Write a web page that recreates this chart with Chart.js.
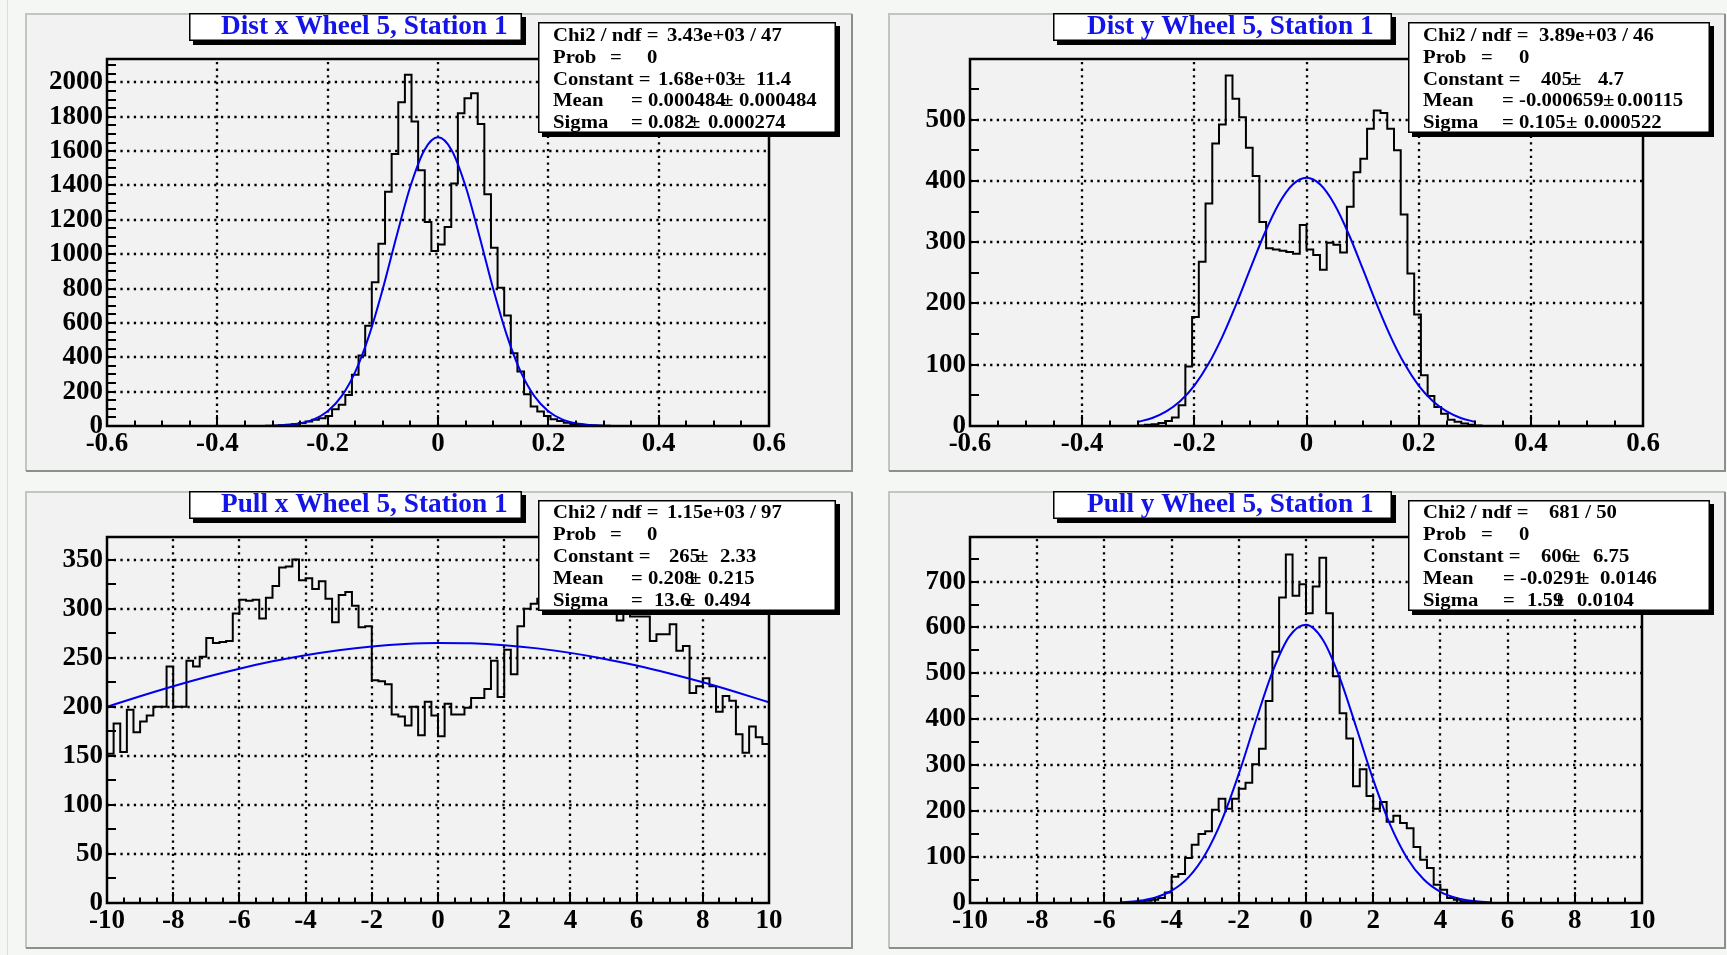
<!DOCTYPE html>
<html><head><meta charset="utf-8">
<script src="https://cdn.jsdelivr.net/npm/chart.js@4.4.1/dist/chart.umd.min.js"></script>
<style>
html,body{margin:0;padding:0;background:#f4f7f4;}
body{width:1727px;height:955px;position:relative;overflow:hidden;}
canvas{position:absolute;}
#edge{position:absolute;left:7px;top:0;width:1px;height:955px;background:#d3e2d3;}
</style></head><body>
<div id="edge"></div>
<canvas id="c1"></canvas><canvas id="c2"></canvas><canvas id="c3"></canvas><canvas id="c4"></canvas>
<script>
// ---------------- DATA ----------------
const titles = ["Dist x Wheel 5, Station 1","Dist y Wheel 5, Station 1","Pull x Wheel 5, Station 1","Pull y Wheel 5, Station 1"];

// histogram bin contents (100 bins each)
const distXValues = [0,0,0,0,0,0,0,0,0,0,0,0,0,0,0,0,0,0,0,0,0,0,0,0,
 1,2,4,7,12,18,26,36,45,58,97,123,181,298,411,584,837,1061,1363,1583,1885,2044,1772,1489,1188,1018,
 1057,1158,1412,1820,1908,1937,1758,1349,1038,804,643,424,317,185,113,84,58,39,29,19,12,8,5,3,2,1,
 0,0,0,0,0,0,0,0,0,0,0,0,0,0,0,0,0,0,0,0,0,0,0,0];
const distYValues = [0,0,0,0,0,0,0,0,0,0,0,0,0,0,0,0,0,0,0,0,0,0,0,0,0,
 1,2,3,5,8,14,34,97,178,268,363,461,492,572,534,504,454,408,333,290,288,286,284,281,328,
 288,279,255,299,296,283,358,414,436,485,515,511,485,450,345,249,182,83,49,31,20,10,7,4,2,1,
 0,0,0,0,0,0,0,0,0,0,0,0,0,0,0,0,0,0,0,0,0,0,0,0];
const pullXValues = [152,183,154,197,174,185,191,200,200,241,
 200,200,247,241,251,270,265,266,267,295,
 309,308,309,290,311,323,342,343,350,329,
 331,320,328,310,286,314,317,303,281,282,
 227,226,223,192,190,181,200,171,205,191,
 170,203,192,192,199,209,209,218,247,210,
 258,233,282,300,305,310,318,325,315,322,
 330,320,315,318,305,300,297,288,297,292,
 292,292,267,274,274,284,257,262,214,221,
 229,221,195,211,206,172,153,180,169,162];
const pullYValues = [0,0,0,0,0,0,0,0,0,0,0,0,0,0,0,0,0,0,0,0,0,0,0,0,
 1,2,5,7,11,23,57,63,98,127,150,156,203,227,205,227,249,262,302,336,
 440,547,665,759,669,694,631,689,752,631,494,413,358,254,291,233,205,220,177,190,
 174,163,122,94,76,40,29,11,7,4,2,1,
 0,0,0,0,0,0,0,0,0,0,0,0,0,0,0,0,0,0,0,0,0,0,0,0];

// histogram ranges
const histRanges = [[-0.6,0.6],[-0.6,0.6],[-10,10],[-10,10]];

// fitted curves
const distXFitX = [-0.3,-0.275,-0.25,-0.225,-0.2,-0.175,-0.15,-0.125,-0.1,-0.075,-0.05,-0.025,0,0.025,0.05,0.075,0.1,0.125,0.15,0.175,0.2,0.225,0.25,0.275,0.3];
const distXFitY = [2,6,16,39,86,172,315,526,799,1106,1395,1604,1680,1604,1395,1106,799,526,315,172,86,39,16,6,2];
const distYFitX = [-0.3,-0.275,-0.25,-0.225,-0.2,-0.175,-0.15,-0.125,-0.1,-0.075,-0.05,-0.025,0,0.025,0.05,0.075,0.1,0.125,0.15,0.175,0.2,0.225,0.25,0.275,0.3];
const distYFitY = [6.8,13.1,23.8,40.8,66,101,146,199.4,257.3,313.8,361.6,393.7,405,393.7,361.6,313.8,257.3,199.4,146,101,66,40.8,23.8,13.1,6.8];
const pullXFitX = [-10,-9,-8,-7,-6,-5,-4,-3,-2,-1,0,1,2,3,4,5,6,7,8,9,10];
const pullXFitY = [199.9,210.7,220.9,230.3,238.8,246.3,252.6,257.7,261.5,264.0,265.0,264.6,262.7,259.5,254.9,249.0,242.0,233.9,224.9,215.0,204.5];
const pullYFitX = [-5.5,-5,-4.5,-4,-3.5,-3,-2.5,-2,-1.5,-1,-0.5,0,0.5,1,1.5,2,2.5,3,3.5,4,4.5,5,5.5];
const pullYFitY = [1.6,4.6,11.6,26.8,55.9,105.8,181.2,281.1,395.1,502.9,580,605.9,573.4,491.5,381.6,268.5,171,98.7,51.6,24.4,10.5,4.1,1.4];

// axis ranges and labelled ticks
const yMaxes = [2136, 599, 373, 797];
const distXTicks = [-0.6,-0.4,-0.2,0,0.2,0.4,0.6];
const pullXTicks = [-10,-8,-6,-4,-2,0,2,4,6,8,10];
const xTickLists = [distXTicks, distXTicks, pullXTicks, pullXTicks];
const yTickLists = [
 [0,200,400,600,800,1000,1200,1400,1600,1800,2000],
 [0,100,200,300,400,500],
 [0,50,100,150,200,250,300,350],
 [0,100,200,300,400,500,600,700]
];
const xMajor = [0.2, 0.2, 2, 2];
const xMinor = [0.05, 0.05, 0.5, 0.5];
const yMinor = [50, 50, 25, 50];

// fit statistics box texts
const statTexts = [
 [["Chi2 / ndf =","3.43e+03 / 47"],["Prob","=","0"],["Constant =","1.68e+03","±","11.4"],["Mean","= 0.000484","±","0.000484"],["Sigma","= 0.082","±","0.000274"]],
 [["Chi2 / ndf =","3.89e+03 / 46"],["Prob","=","0"],["Constant =","405","±","4.7"],["Mean","= -0.000659","±","0.00115"],["Sigma","= 0.105","±","0.000522"]],
 [["Chi2 / ndf =","1.15e+03 / 97"],["Prob","=","0"],["Constant =","265","±","2.33"],["Mean","= 0.208","±","0.215"],["Sigma","=","13.6","±","0.494"]],
 [["Chi2 / ndf =","681 / 50"],["Prob","=","0"],["Constant =","606","±","6.75"],["Mean","= -0.0291","±","0.0146"],["Sigma","=","1.59","±","0.0104"]]
];

// ---------------- LAYOUT (page pixels) ----------------
const layout = [
 {canvas:'c1', pad:[25,13,828,459], frame:[107,59,769,426], titleBox:[189,13,522,41], titleX:221, titleY:33.5, statBox:[538,22,836,133], statY:40.7,
  statPos:[[553,667],[553,610,647],[553,658,734,756],[553,631,722,739],[553,631,689,708]]},
 {canvas:'c2', pad:[888,13,838,459], frame:[970,59,1643,426], titleBox:[1053,13,1392,41], titleX:1087, titleY:33.5, statBox:[1408,22,1710,133], statY:40.7,
  statPos:[[1423,1539],[1423,1481,1519],[1423,1541,1570,1598],[1423,1502,1603,1617],[1423,1502,1566,1584]]},
 {canvas:'c3', pad:[25,491,828,458], frame:[107,537,769,903], titleBox:[189,491,522,519], titleX:221, titleY:512.3, statBox:[538,500,836,611], statY:518.3,
  statPos:[[553,667],[553,610,647],[553,669,697,720],[553,631,690,708],[553,631,654,684,704]]},
 {canvas:'c4', pad:[888,491,838,458], frame:[970,537,1642,903], titleBox:[1053,491,1392,519], titleX:1087, titleY:512.3, statBox:[1408,500,1710,611], statY:518.3,
  statPos:[[1423,1549],[1423,1481,1519],[1423,1541,1569,1593],[1423,1503,1578,1600],[1423,1503,1527,1553,1577]]}
];

const FONT = '"Liberation Serif", "Times New Roman", serif';

function drawScaledText(ctx, text, x, y, size, color, sx) {
  ctx.save();
  ctx.font = 'bold ' + size + 'px ' + FONT;
  ctx.fillStyle = color;
  ctx.textBaseline = 'alphabetic';
  ctx.textAlign = 'left';
  ctx.translate(x, y);
  ctx.scale(sx, 1);
  ctx.fillText(text, 0, 0);
  ctx.restore();
}

function shadowBox(ctx, x0, y0, x1, y1) {
  ctx.save();
  ctx.fillStyle = '#000';
  ctx.fillRect(x0 + 4, y0 + 4, x1 - x0, y1 - y0);
  ctx.fillStyle = '#fff';
  ctx.fillRect(x0, y0, x1 - x0, y1 - y0);
  ctx.strokeStyle = '#000';
  ctx.lineWidth = 1.5;
  ctx.strokeRect(x0 + 0.75, y0 + 0.75, x1 - x0 - 1.5, y1 - y0 - 1.5);
  ctx.restore();
}

const rootDeco = {
  id: 'rootDeco',
  beforeDraw(chart, args, o) {
    const ctx = chart.ctx, w = chart.width, h = chart.height;
    ctx.save();
    ctx.fillStyle = '#f2f2f2';
    ctx.fillRect(0, 0, w, h);
    ctx.lineWidth = 2;
    ctx.strokeStyle = '#c4c4c4';
    ctx.beginPath(); ctx.moveTo(1, h - 1); ctx.lineTo(1, 1); ctx.lineTo(w - 1, 1); ctx.stroke();
    ctx.strokeStyle = '#8e8e8e';
    ctx.beginPath(); ctx.moveTo(w - 1, 1); ctx.lineTo(w - 1, h - 1); ctx.lineTo(1, h - 1); ctx.stroke();
    ctx.restore();
  },
  beforeDatasetsDraw(chart, args, o) {
    const ctx = chart.ctx, a = chart.chartArea, x = chart.scales.x, y = chart.scales.y;
    ctx.save();
    ctx.strokeStyle = '#000';
    ctx.lineWidth = 2.3;
    ctx.setLineDash([2.3, 4.4]);
    for (const t of x.ticks) {
      const px = Math.round(x.getPixelForValue(t.value));
      if (px < a.left + 3 || px > a.right - 3) continue;
      ctx.beginPath(); ctx.moveTo(px, a.bottom); ctx.lineTo(px, a.top); ctx.stroke();
    }
    for (const t of y.ticks) {
      const py = Math.round(y.getPixelForValue(t.value));
      if (py < a.top + 3 || py > a.bottom - 3) continue;
      ctx.beginPath(); ctx.moveTo(a.left, py); ctx.lineTo(a.right, py); ctx.stroke();
    }
    ctx.restore();
  },
  afterDatasetsDraw(chart, args, o) {
    const ctx = chart.ctx, a = chart.chartArea, x = chart.scales.x, y = chart.scales.y;
    ctx.save();
    ctx.strokeStyle = '#000';
    ctx.lineWidth = 2;
    const nx = Math.round((x.max - x.min) / o.xMinor);
    for (let i = 0; i <= nx; i++) {
      const v = x.min + i * o.xMinor;
      const r = v / o.xMajor;
      const major = Math.abs(r - Math.round(r)) < 1e-6;
      const px = Math.round(x.getPixelForValue(v));
      ctx.beginPath(); ctx.moveTo(px, a.bottom); ctx.lineTo(px, a.bottom - (major ? 11 : 5.5)); ctx.stroke();
    }
    const ny = Math.floor((y.max - y.min) / o.yMinor + 1e-6);
    for (let i = 0; i <= ny; i++) {
      const v = y.min + i * o.yMinor;
      const py = Math.round(y.getPixelForValue(v));
      ctx.beginPath(); ctx.moveTo(a.left, py); ctx.lineTo(a.left + 9, py); ctx.stroke();
    }
    ctx.lineWidth = 2.5;
    ctx.strokeRect(a.left, a.top, a.right - a.left, a.bottom - a.top);
    ctx.restore();
  },
  afterDraw(chart, args, o) {
    const ctx = chart.ctx, L = o.lay, ox = L.pad[0], oy = L.pad[1];
    const tb = L.titleBox;
    shadowBox(ctx, tb[0] - ox, tb[1] - oy, tb[2] - ox, tb[3] - oy);
    drawScaledText(ctx, o.title, L.titleX - ox, L.titleY - oy, 26.5, '#1414e6', 1.03);
    const sb = L.statBox;
    shadowBox(ctx, sb[0] - ox, sb[1] - oy, sb[2] - ox, sb[3] - oy);
    o.stats.forEach((line, j) => {
      const yy = L.statY + j * 21.9 - oy;
      line.forEach((seg, k) => {
        drawScaledText(ctx, seg, L.statPos[j][k] - ox, yy, 18.5, '#000', 1.12);
      });
    });
  }
};

function histPoints(range, values) {
  const w = (range[1] - range[0]) / values.length;
  const pts = [{x: range[0], y: 0}];
  values.forEach((v, i) => pts.push({x: range[0] + i * w, y: v}));
  pts.push({x: range[1], y: 0});
  return pts;
}
function curvePoints(xs, ys) { return xs.map((v, i) => ({x: v, y: ys[i]})); }

function fmt(v) {
  const r = Math.round(v * 1000) / 1000;
  return (r === 0) ? '0' : String(r);
}

const allValues = [distXValues, distYValues, pullXValues, pullYValues];
const allFits = [[distXFitX, distXFitY], [distYFitX, distYFitY], [pullXFitX, pullXFitY], [pullYFitX, pullYFitY]];

layout.forEach((L, p) => {
  const cv = document.getElementById(L.canvas);
  cv.width = L.pad[2]; cv.height = L.pad[3];
  cv.style.left = L.pad[0] + 'px'; cv.style.top = L.pad[1] + 'px';
  cv.style.width = L.pad[2] + 'px'; cv.style.height = L.pad[3] + 'px';
  const fl = L.frame[0] - L.pad[0];
  const ft = L.frame[1] - L.pad[1];
  const fr = L.pad[0] + L.pad[2] - L.frame[2];
  const fb = L.pad[1] + L.pad[3] - L.frame[3];
  const tickFont = {family: FONT, size: 27, weight: 'bold'};
  new Chart(cv, {
    type: 'scatter',
    data: {datasets: [
      {data: histPoints(histRanges[p], allValues[p]), showLine: true, stepped: 'before',
       borderColor: '#000', borderWidth: 2, pointRadius: 0, fill: false, order: 2},
      {data: curvePoints(allFits[p][0], allFits[p][1]), showLine: true, cubicInterpolationMode: 'monotone',
       borderColor: '#0000f0', borderWidth: 2, pointRadius: 0, fill: false, order: 1}
    ]},
    options: {
      responsive: false, animation: false, devicePixelRatio: 1,
      layout: {padding: {left: 0, top: ft, right: fr, bottom: 0}},
      plugins: {
        legend: {display: false}, tooltip: {enabled: false},
        rootDeco: {lay: L, title: titles[p], stats: statTexts[p],
                   xMajor: xMajor[p], xMinor: xMinor[p], yMinor: yMinor[p]}
      },
      scales: {
        x: {type: 'linear', min: histRanges[p][0], max: histRanges[p][1],
            afterFit(s) { s.height = fb; },
            afterBuildTicks(s) { s.ticks = xTickLists[p].map(v => ({value: v})); },
            grid: {display: false, drawTicks: false}, border: {display: false},
            ticks: {autoSkip: false, maxRotation: 0, minRotation: 0,
                    padding: 2, color: '#000', font: tickFont, callback: (v) => fmt(v)}},
        y: {type: 'linear', min: 0, max: yMaxes[p],
            afterFit(s) { s.width = fl; },
            afterBuildTicks(s) { s.ticks = yTickLists[p].map(v => ({value: v})); },
            grid: {display: false, drawTicks: false}, border: {display: false},
            ticks: {autoSkip: false, padding: 4, color: '#000', font: tickFont, callback: (v) => String(v)}}
      }
    },
    plugins: [rootDeco]
  });
});
</script>
</body></html>
